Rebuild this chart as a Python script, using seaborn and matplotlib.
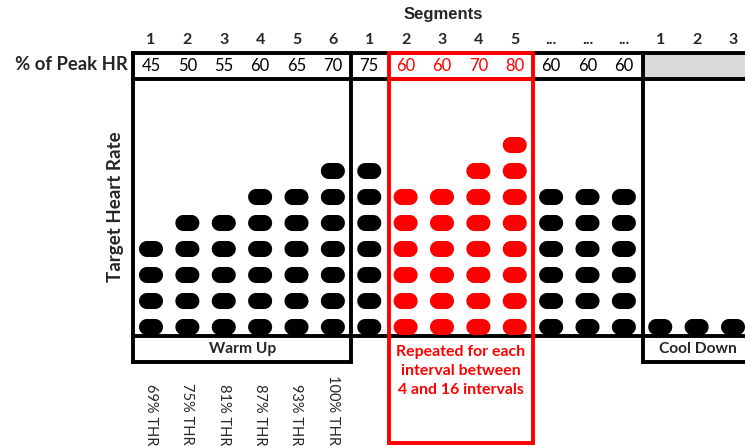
import matplotlib
matplotlib.use('Agg')
import matplotlib.pyplot as plt
from matplotlib.path import Path
import numpy as np
import pandas as pd
import seaborn as sns

# segment labels, peak HR and stack height (number of pills) per column
segments = ['1', '2', '3', '4', '5', '6', '1', '2', '3', '4', '5',
            '...', '...', '...', '1', '2', '3']
peak_hr = ['45', '50', '55', '60', '65', '70', '75', '60', '60', '70', '80',
           '60', '60', '60', '', '', '']
levels = [4, 5, 5, 6, 6, 7, 7, 6, 6, 7, 8, 6, 6, 6, 1, 1, 1]
phase = ['warm'] * 6 + ['base'] + ['interval'] * 4 + ['base'] * 3 + ['cool'] * 3
thr_labels = ['69% THR', '75% THR', '81% THR', '87% THR', '93% THR', '100% THR']

RED = '#ff0000'
CAL = ['Lato', 'DejaVu Sans']
ARI = ['Liberation Sans', 'DejaVu Sans']

sns.set_theme(style='white')
plt.rcParams['font.family'] = CAL

# pixel layout
x0, dx = 151, 36.375
y0, dy = 327, 26
col_x = [x0 + i * dx for i in range(len(segments))]

rows = []
for i, n in enumerate(levels):
    for k in range(n):
        rows.append({'x': col_x[i], 'y': y0 - k * dy,
                     'color': 'red' if phase[i] == 'interval' else 'black'})
df = pd.DataFrame(rows)

# stadium shaped marker
t = np.linspace(-np.pi / 2, np.pi / 2, 24)
r = 1.0
c = 0.5
right = np.column_stack([c + r * np.cos(t), r * np.sin(t)])
left = np.column_stack([-c - r * np.cos(t), -r * np.sin(t)])
verts = np.vstack([right, left, right[:1]])
pill = Path(verts, closed=True)

fig = plt.figure(figsize=(7.45, 4.46), dpi=100)
ax = fig.add_axes([0, 0, 1, 1])
ax.set_xlim(0, 745)
ax.set_ylim(446, 0)
ax.axis('off')

sns.scatterplot(data=df, x='x', y='y', hue='color',
                palette={'black': 'black', 'red': RED},
                marker=pill, s=(24 * 0.72) ** 2, linewidth=0,
                legend=False, ax=ax, zorder=3)

lw = 2.8
# grey header cell for cool down
ax.fill_between([643, 745], 53, 79, color='#d9d9d9', zorder=1, linewidth=0)
# black frame
for (xa, xb, ya, yb) in [(133, 745, 53, 53), (133, 745, 79, 79),
                         (133, 745, 336, 336), (133, 351, 362, 362),
                         (643, 745, 362, 362), (133, 133, 53, 362),
                         (351, 351, 53, 362), (643, 643, 53, 362)]:
    ax.plot([xa, xb], [ya, yb], color='black', lw=lw, solid_capstyle='projecting', zorder=2)
# red interval frame
ax.plot([389, 533, 533, 389, 389], [53, 53, 443, 443, 53], color=RED, lw=lw,
        solid_joinstyle='miter', zorder=4)
ax.plot([389, 533], [79, 79], color=RED, lw=lw, zorder=4)

# texts
ax.text(443, 15, 'Segments', ha='center', va='center', fontsize=12,
        fontweight='bold', family=ARI)
for i, s in enumerate(segments):
    ax.text(col_x[i], 40, s, ha='center', va='center', fontsize=11.5, fontweight='bold')
    if peak_hr[i]:
        ax.text(col_x[i], 66, peak_hr[i], ha='center', va='center', fontsize=12,
                color=RED if phase[i] == 'interval' else 'black')
ax.text(128, 65, '% of Peak HR', ha='right', va='center', fontsize=13.3, fontweight='bold')
ax.text(116, 207, 'Target Heart Rate', ha='center', va='center', rotation=90,
        fontsize=13.5, fontweight='bold')
ax.text(243, 349, 'Warm Up', ha='center', va='center', fontsize=11.2, fontweight='bold')
ax.text(698, 349, 'Cool Down', ha='center', va='center', fontsize=11.2, fontweight='bold')
ax.text(461, 371, 'Repeated for each\ninterval between\n4 and 16 intervals',
        ha='center', va='center', fontsize=11.4, fontweight='bold', color=RED,
        linespacing=1.45)
for i, lab in enumerate(thr_labels):
    ax.text(col_x[i], 445, lab, ha='center', va='bottom', rotation=270, fontsize=10.5)

fig.savefig('out.png', dpi=100)
